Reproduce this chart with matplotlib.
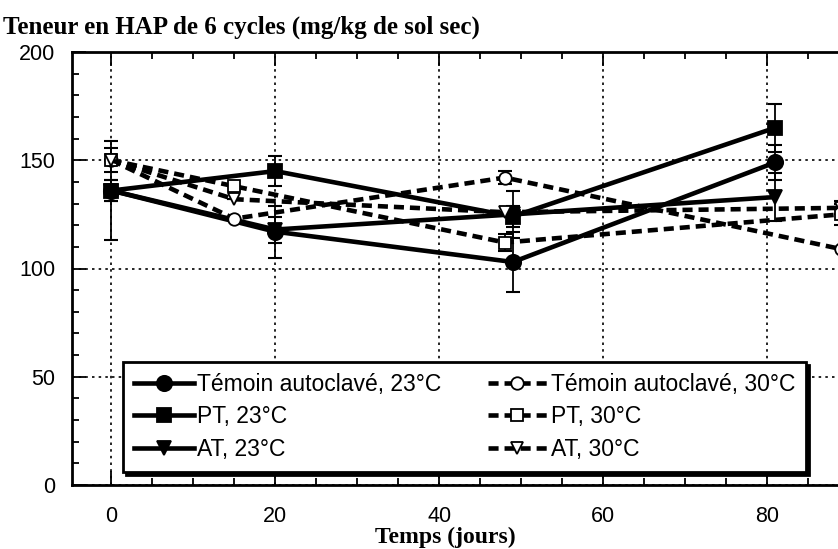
import matplotlib
matplotlib.use("Agg")
import matplotlib.pyplot as plt
from matplotlib.ticker import MultipleLocator

# days of sampling
days_23 = [0, 20, 49, 81]
days_30 = [0, 15, 48, 89]

# HAP 6 cycles content (mg/kg dry soil)
temoin_23 = [136, 117, 103, 149]
pt_23 = [136, 145, 124, 165]
at_23 = [136, 118, 125, 133]
temoin_30 = [150, 123, 142, 109]
pt_30 = [150, 138, 112, 125]
at_30 = [150, 132, 126, 128]

# error bars
err_temoin_23 = [23, 12, 14, 8]
err_pt_23 = [5, 7, 5, 11]
err_at_23 = [5, 6, 11, 11]
err_temoin_30 = [0, 0, 3, 0]
err_pt_30 = [5.5, 0, 4, 5]
err_at_30 = [0, 0, 0, 3]

labels = ["Témoin autoclavé, 23°C", "PT, 23°C", "AT, 23°C",
          "Témoin autoclavé, 30°C", "PT, 30°C", "AT, 30°C"]

plt.rcParams["font.family"] = ["Liberation Sans", "DejaVu Sans"]

W, H = 838, 549
fig = plt.figure(figsize=(W / 100, H / 100), dpi=100)
ax = fig.add_axes([72 / W, 1 - 485 / H, (890 - 72) / W, (485 - 52) / H])

dash = (0, (2.2, 1.3))
series = [
    (days_23, temoin_23, err_temoin_23, "o", "k", "-", 11),
    (days_23, pt_23, err_pt_23, "s", "k", "-", 10),
    (days_23, at_23, err_at_23, "v", "k", "-", 10),
    (days_30, temoin_30, err_temoin_30, "o", "white", dash, 9),
    (days_30, pt_30, err_pt_30, "s", "white", dash, 9),
    (days_30, at_30, err_at_30, "v", "white", dash, 9),
]

handles = []
for (x, y, e, m, fc, ls, ms), lab in zip(series, labels):
    ax.errorbar(x, y, yerr=e, fmt="none", ecolor="k", elinewidth=1.3,
                capsize=5, capthick=1.5, zorder=2)
    h, = ax.plot(x, y, color="k", linestyle=ls, linewidth=3.3, marker=m,
                 markersize=ms, markerfacecolor=fc, markeredgecolor="k",
                 markeredgewidth=1.3, label=lab, zorder=3)
    handles.append(h)

ax.set_xlim(-4.8, 95)
ax.set_ylim(0, 200)
ax.xaxis.set_major_locator(MultipleLocator(20))
ax.xaxis.set_minor_locator(MultipleLocator(5))
ax.yaxis.set_major_locator(MultipleLocator(50))
ax.yaxis.set_minor_locator(MultipleLocator(10))
ax.tick_params(which="both", direction="in", top=True, right=True, width=1.3)
ax.tick_params(which="major", length=10, labelsize=15.5)
ax.tick_params(which="minor", length=5)
ax.tick_params(axis="y", pad=12)
ax.tick_params(axis="x", pad=15)
ax.grid(True, which="major", color="k", linestyle=(0, (1.5, 2.5)), linewidth=1.2)
for sp in ax.spines.values():
    sp.set_linewidth(2)

leg = ax.legend(handles=handles, ncol=2, loc="lower left",
                bbox_to_anchor=(123 / W, 1 - 472 / H),
                bbox_transform=fig.transFigure, borderaxespad=0,
                fontsize=16.5, handlelength=2.6, handletextpad=0.15,
                columnspacing=2.0, labelspacing=0.4, borderpad=0.5,
                fancybox=False, framealpha=1,
                shadow={"color": "k", "alpha": 1})
leg.get_frame().set_edgecolor("k")
leg.get_frame().set_linewidth(2)
leg.set_zorder(5)

fig.text(3 / W, 1 - 27 / H, "Teneur en HAP de 6 cycles (mg/kg de sol sec)",
         family="Liberation Serif", fontweight="bold", fontsize=18,
         ha="left", va="center")
fig.text(445 / W, 1 - 537 / H, "Temps (jours)", family="Liberation Serif",
         fontweight="bold", fontsize=17, ha="center", va="center")

fig.savefig("out.png", dpi=100)
